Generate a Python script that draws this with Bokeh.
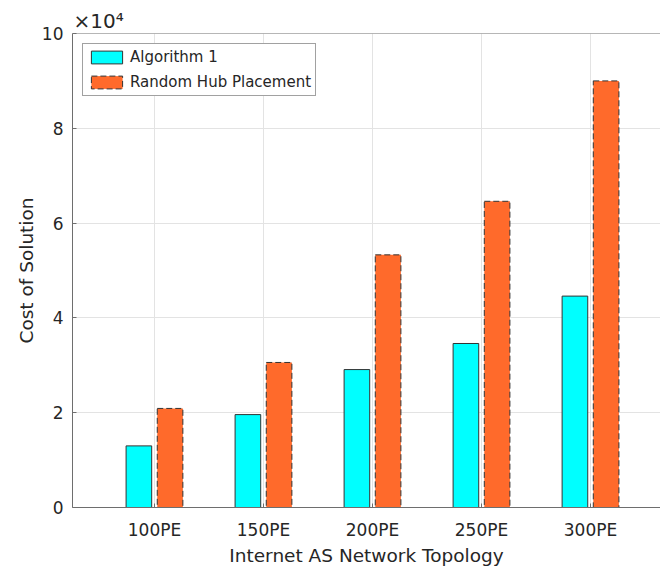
import numpy as np
from bokeh.plotting import figure
from bokeh.models import (ColumnDataSource, Range1d, FixedTicker, Span, Title,
                          CustomJSTickFormatter, Legend, LegendItem)
from bokeh.transform import dodge
from bokeh.embed import file_html
from bokeh.resources import INLINE

# ---- data ----
categories = ["100PE", "150PE", "200PE", "250PE", "300PE"]
algorithm1 = [13000, 19600, 29100, 34600, 44600]
random_hub = [20900, 30600, 53300, 64600, 90000]
y_ticks = [0, 20000, 40000, 60000, 80000, 100000]
series_names = ["Algorithm 1", "Random Hub Placement"]
x_title = "Internet AS Network Topology"
y_title = "Cost of Solution"
exponent_text = "×10⁴"

positions = list(range(1, len(categories) + 1))
source = ColumnDataSource(dict(x=positions, alg=algorithm1, rnd=random_hub))

FONT = "DejaVu Sans"
TXT = "#262626"
AXC = "#6e6e6e"

p = figure(width=660, height=568, output_backend="svg", toolbar_location=None,
           x_range=Range1d(0.248, 5.642), y_range=Range1d(0, 100000),
           min_border_left=72, min_border_right=0, min_border_top=33, min_border_bottom=61,
           background_fill_color="white", border_fill_color="white")
p.outline_line_color = None

r1 = p.vbar(x=dodge("x", -0.143, range=p.x_range), top="alg", width=0.235, source=source,
            fill_color="#00FFFF", line_color="#333333", line_width=1)
r2 = p.vbar(x=dodge("x", 0.143, range=p.x_range), top="rnd", width=0.235, source=source,
            fill_color="#FF6A2B", line_color="#333333", line_width=1, line_dash="6 3")

legend = Legend(items=[LegendItem(label=series_names[0], renderers=[r1]),
                       LegendItem(label=series_names[1], renderers=[r2])],
                location="top_left", margin=10, padding=4, spacing=7,
                glyph_width=39, glyph_height=16, label_height=16, label_standoff=4,
                label_text_font=FONT, label_text_font_size="15px", label_text_color=TXT,
                border_line_color="#444444", border_line_width=1,
                background_fill_color="white", background_fill_alpha=1.0)
p.add_layout(legend)

# axes
p.xaxis.ticker = FixedTicker(ticks=positions)
p.xaxis.major_label_overrides = {pos: c for pos, c in zip(positions, categories)}
p.yaxis.ticker = FixedTicker(ticks=y_ticks)
p.yaxis.formatter = CustomJSTickFormatter(code="return (tick/1e4).toFixed(0);")
p.xaxis.axis_label = x_title
p.yaxis.axis_label = y_title
for ax in (p.xaxis, p.yaxis):
    ax.major_tick_in = 4
    ax.major_tick_out = 0
    ax.minor_tick_line_color = None
    ax.axis_line_color = AXC
    ax.major_tick_line_color = AXC
    ax.major_label_text_font = FONT
    ax.major_label_text_font_size = "17px"
    ax.major_label_text_color = TXT
    ax.axis_label_text_font = FONT
    ax.axis_label_text_font_size = "18.5px"
    ax.axis_label_text_font_style = "normal"
    ax.axis_label_text_color = TXT
p.xaxis.major_label_standoff = 12
p.xaxis.axis_label_standoff = 2
p.yaxis.major_label_standoff = 9
p.yaxis.axis_label_standoff = 2

# top border of the axes box
p.add_layout(Span(location=100000, dimension="width", line_color=AXC, line_width=1))

p.grid.grid_line_color = "#e3e3e3"

# exponent note above the y axis
p.add_layout(Title(text=exponent_text, align="left", offset=1, standoff=1,
                   text_font=FONT, text_font_size="20px", text_font_style="normal",
                   text_color=TXT), "above")

open("out.html", "w").write(file_html(p, INLINE))
